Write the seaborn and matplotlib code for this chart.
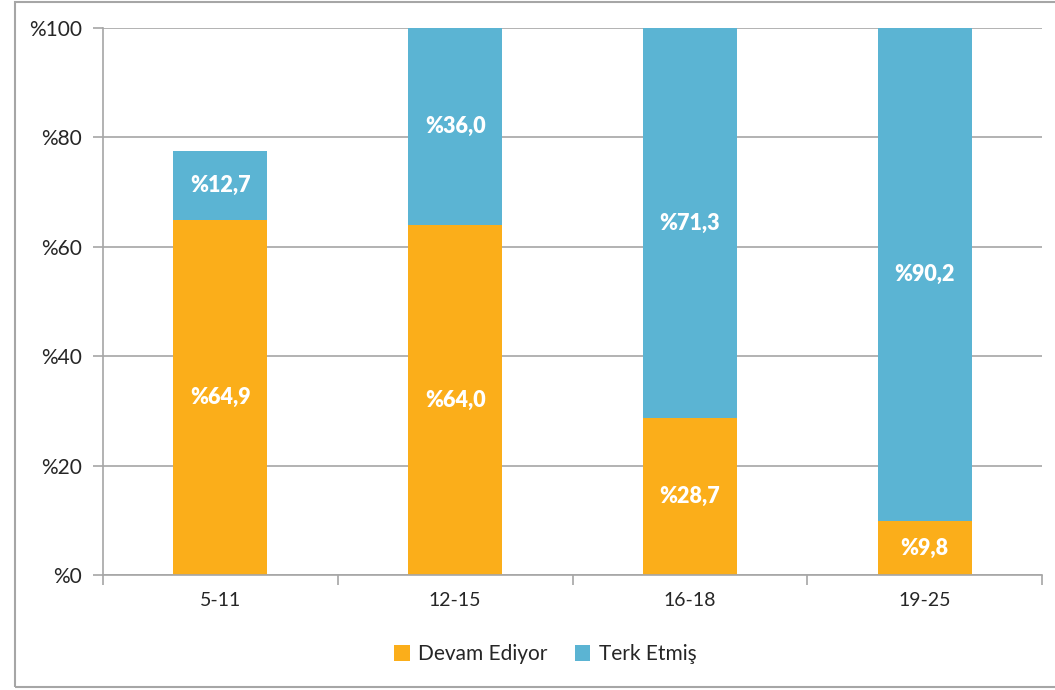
import numpy as np
import pandas as pd
import matplotlib
matplotlib.use("Agg")
import matplotlib.pyplot as plt
import seaborn as sns
from matplotlib.patches import Rectangle

# Data
age_groups = ["5-11", "12-15", "16-18", "19-25"]
devam = [64.9, 64.0, 28.7, 9.8]
terk = [12.7, 36.0, 71.3, 90.2]

orange = "#FBAE1A"
blue = "#5BB4D3"

sns.set_style("white")
plt.rcParams["font.family"] = ["Lato", "DejaVu Sans"]

df = pd.DataFrame({"grup": age_groups, "devam": devam, "terk": terk})

fig = plt.figure(figsize=(10.55, 6.9), dpi=100)
ax = fig.add_axes([103 / 1055, 1 - 575 / 690, (1042 - 103) / 1055, (575 - 28) / 690])

sns.barplot(data=df, x="grup", y="devam", color=orange, width=0.4,
            saturation=1, linewidth=0, ax=ax, label="Devam Ediyor")
sns.barplot(data=df, x="grup", y="terk", color=blue, width=0.4,
            saturation=1, linewidth=0, bottom=df["devam"], ax=ax, label="Terk Etmiş")

for cont in ax.containers:
    ax.bar_label(cont, labels=["%" + f"{v:.1f}".replace(".", ",") for v in cont.datavalues],
                 label_type="center", color="white", fontsize=15.5, fontweight="heavy")

ax.set_ylim(0, 100)
ax.set_xlim(-0.5, 3.5)
ax.set_yticks([0, 20, 40, 60, 80, 100])
ax.set_yticklabels(["%" + str(v) for v in [0, 20, 40, 60, 80, 100]], fontsize=15)
ax.tick_params(axis="y", length=7, color="#a6a6a6", width=1.2, pad=8, left=True)
ax.set_xticks([0, 1, 2, 3])
ax.set_xticklabels(age_groups, fontsize=14)
ax.set_xticks([-0.5, 0.5, 1.5, 2.5, 3.5], minor=True)
ax.tick_params(axis="x", which="major", length=0, pad=12)
ax.tick_params(axis="x", which="minor", length=7, color="#a6a6a6", width=1.2, bottom=True)
ax.set_xlabel("")
ax.set_ylabel("")

ax.grid(axis="y", color="#a6a6a6", linewidth=1.2)
ax.set_axisbelow(True)
for s in ["top", "right"]:
    ax.spines[s].set_visible(False)
for s in ["left", "bottom"]:
    ax.spines[s].set_color("#a6a6a6")
    ax.spines[s].set_linewidth(1.2)

leg = ax.legend(loc="center", bbox_to_anchor=(0.471, -0.145), ncol=2, frameon=False,
                fontsize=15, handlelength=0.75, handleheight=0.75, handletextpad=0.4,
                columnspacing=1.3)

fig.patches.append(Rectangle((15 / 1055, 3 / 690), 1.1, 685 / 690, transform=fig.transFigure,
                             fill=False, edgecolor="#a6a6a6", linewidth=1.5))

fig.savefig("out.png", dpi=100)
